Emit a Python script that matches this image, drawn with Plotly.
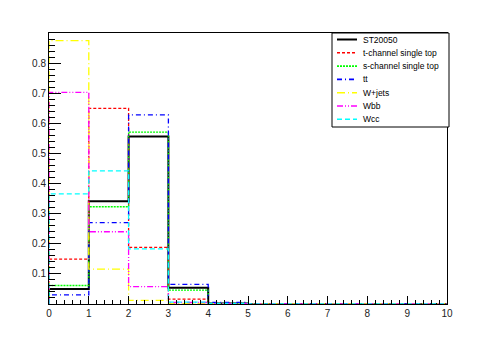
import plotly.graph_objects as go

# bin edges (unit bins from 0 to 10)
bin_edges = [0, 1, 2, 3, 4, 5, 6, 7, 8, 9, 10]

# normalised distributions per sample, one value per bin
st20050 = [0.050, 0.341, 0.556, 0.054, 0.002, 0, 0, 0, 0, 0]
t_channel = [0.149, 0.650, 0.188, 0.0165, 0.002, 0, 0, 0, 0, 0]
s_channel = [0.0615, 0.323, 0.571, 0.046, 0.002, 0, 0, 0, 0, 0]
ttbar = [0.030, 0.270, 0.628, 0.065, 0.005, 0, 0, 0, 0, 0]
wjets = [0.875, 0.116, 0.012, 0.001, 0.001, 0, 0, 0, 0, 0]
wbb = [0.703, 0.240, 0.058, 0.005, 0.001, 0, 0, 0, 0, 0]
wcc = [0.366, 0.442, 0.183, 0.006, 0.002, 0, 0, 0, 0, 0]

names = ["ST20050", "t-channel single top", "s-channel single top", "tt", "W+jets", "Wbb", "Wcc"]
series = [st20050, t_channel, s_channel, ttbar, wjets, wbb, wcc]

# ROOT-like line styles
colors = ["#000000", "#ff0000", "#00ff00", "#0000ff", "#ffff00", "#ff00ff", "#00ffff"]
dashes = ["solid", "3px,2px", "2px,1px", "5px,3px,1px,3px", "8px,3px,1px,3px",
          "6px,2px,1px,2px,1px,2px", "5px,3px"]
widths = [2, 1.3, 1.3, 1.3, 1.3, 1.3, 1.3]

fig = go.Figure()

for name, vals, color, dash, width in zip(names, series, colors, dashes, widths):
    # step outline: start at baseline, follow bins, drop to baseline at end
    xs = [bin_edges[0]] + bin_edges + [bin_edges[-1]]
    ys = [0] + list(vals) + [vals[-1], 0]
    fig.add_trace(go.Scatter(
        x=xs,
        y=ys,
        mode="lines",
        line=dict(color=color, dash=dash, width=width, shape="hv"),
        name=name,
        showlegend=False,
    ))

# hand-drawn ROOT-style legend box (paper coords of the plot frame)
W, H = 398.0, 271.0   # frame size in px
def px_x(p):
    return (p - 49) / W
def px_y(p):
    return (304 - p) / H

shapes = [dict(
    type="rect", xref="paper", yref="paper", layer="above",
    x0=px_x(332), x1=px_x(449), y0=px_y(127), y1=px_y(33),
    line=dict(color="black", width=1), fillcolor="white",
)]
annotations = []
for i, (name, color, dash, width) in enumerate(zip(names, colors, dashes, widths)):
    yy = px_y(39.5 + i * 13.3)
    shapes.append(dict(
        type="line", xref="paper", yref="paper", layer="above",
        x0=px_x(337), x1=px_x(357), y0=yy, y1=yy,
        line=dict(color=color, dash=dash, width=max(width, 1.6)),
    ))
    annotations.append(dict(
        xref="paper", yref="paper", x=px_x(361), y=yy,
        xanchor="left", yanchor="middle", showarrow=False,
        text=name, font=dict(size=8.5, color="black"),
    ))

# the page body adds an 8px offset, so margins are reduced by 8px on left/top
fig.update_layout(
    width=498,
    height=338,
    margin=dict(l=41, r=59, t=25, b=42),
    paper_bgcolor="white",
    plot_bgcolor="white",
    font=dict(family="Liberation Sans, Arial, sans-serif", size=10, color="#222222"),
    showlegend=False,
    shapes=shapes,
    annotations=annotations,
)

fig.update_xaxes(
    range=[0, 10],
    automargin=False,
    tickmode="array",
    tickvals=list(range(0, 11)),
    ticks="inside", ticklen=8, tickcolor="black",
    showline=True, linecolor="black", linewidth=1, mirror=True,
    showgrid=False, zeroline=False,
    minor=dict(dtick=0.2, tick0=0, ticks="inside", ticklen=4, tickcolor="black", showgrid=False),
)

fig.update_yaxes(
    range=[0, 0.9],
    automargin=False,
    tickmode="array",
    tickvals=[0.1, 0.2, 0.3, 0.4, 0.5, 0.6, 0.7, 0.8],
    ticktext=["0.1", "0.2", "0.3", "0.4", "0.5", "0.6", "0.7", "0.8"],
    ticks="inside", ticklen=12, tickcolor="black",
    showline=True, linecolor="black", linewidth=1, mirror=True,
    showgrid=False, zeroline=False,
    minor=dict(dtick=0.02, tick0=0, ticks="inside", ticklen=6, tickcolor="black", showgrid=False),
)

fig.write_html("out.html")
